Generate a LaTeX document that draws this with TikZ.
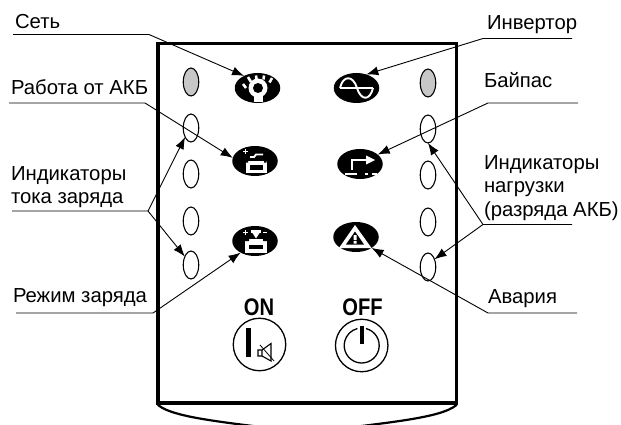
\documentclass[tikz,border=0pt]{standalone}
\usepackage{fontspec}
\setmainfont{Liberation Sans}
\newfontfamily\condfont[FakeStretch=0.84]{Liberation Sans}
\usetikzlibrary{shapes.geometric,arrows.meta}
\tikzset{
  x=1pt,y=-1pt,
  lbl/.style={inner sep=0pt,outer sep=0pt,anchor=base west,font=\fontsize{20.3}{23.5}\selectfont},
  lbltwo/.style={inner sep=0pt,outer sep=0pt,anchor=north west,align=left,font=\fontsize{20.3}{23.5}\selectfont},
  led/.style={ellipse,draw,line width=1.1pt,minimum width=15.5pt,minimum height=28pt,inner sep=0pt,outer sep=0pt},
  ledon/.style={led,fill=black!22},
  icon/.style={ellipse,fill=black,minimum width=45.5pt,minimum height=30pt,inner sep=0pt,outer sep=0pt},
  arrowed/.style={line width=0.9pt,black,-{Latex[length=12pt,width=9pt]}},
  wh/.style={white,line width=1.6pt},
  btn/.style={circle,draw,line width=1.3pt,minimum size=52.5pt,inner sep=0pt,outer sep=0pt},
  btnlbl/.style={inner sep=0pt,outer sep=0pt,anchor=base,font=\condfont\bfseries\fontsize{24}{24}\selectfont},
}
\begin{document}
\begin{tikzpicture}
\useasboundingbox (0,0) rectangle (621,425);
% body
\coordinate (bl) at (158,405);
\coordinate (br) at (456.5,405);
\draw[line width=2.2pt,line cap=round] (bl) .. controls (175,419) and (235,423) .. (307,433) .. controls (380,423) and (440,419) .. (br);
\draw[line width=3.8pt,line join=miter] (158,403) -- (158,43.5) -- (456.5,43.5) -- (456.5,403) -- cycle;
% LEDs
\node[ledon] (lA) at (191,82) {};
\node[led] (lB) at (191,128) {};
\node[led] (lC) at (191,174) {};
\node[led] (lD) at (191,221) {};
\node[led] (lE) at (191,265) {};
\node[ledon] (rA) at (428,83) {};
\node[led] (rB) at (428,129) {};
\node[led] (rC) at (428,175) {};
\node[led] (rD) at (428,222) {};
\node[led] (rE) at (428,267) {};
% icons
\node[icon] (sun) at (257.5,88) {};
\node[icon] (inv) at (356.5,88) {};
\node[icon] (batA) at (255,161) {};
\node[icon] (byp) at (360,164) {};
\node[icon] (batB) at (255,241) {};
\node[icon] (alm) at (356,237) {};
% sun glyph
\fill[white] (258,88) circle[radius=9.5pt];
\fill[black] (258,88) circle[radius=5pt];
\fill[white] (253.5,94) rectangle (262.5,102);
\draw[wh,line width=2.6pt] (243,84) -- (246,88) (248,77) -- (251,82) (256,75.5) -- (256.5,79.5) (264,75.5) -- (263.5,79.5) (272,78) -- (269.5,82.5);
% inverter glyph
\draw[wh,line width=1.9pt] (340,88) -- (373,88);
\draw[wh,line width=1.9pt] (340,88) .. controls (343,75) and (353,75) .. (357,88) .. controls (361,101) and (370,101) .. (373,88);
% battery A glyph
\fill[white] (245.5,161) rectangle (266.5,173);
\fill[black] (249.5,165) rectangle (262.5,170);
\fill[black] (245.5,161) rectangle (248,162.5) (264,161) rectangle (266.5,162.5);
\draw[wh,line width=1.8pt] (250,157) -- (254,157) -- (256,154.5) -- (263,154.5);
\draw[wh,line width=1pt] (243,152) -- (248,152) (245.5,149.5) -- (245.5,154.5);
% bypass glyph
\draw[wh,line width=2.4pt] (352,170) -- (352,160) -- (369,160);
\fill[white] (366,155.5) -- (375,160) -- (366,164.5) -- cycle;
\draw[wh,line width=1.7pt] (345,174) -- (357,174) (365,174) -- (368,174) (372,174) -- (377,174);
% battery B glyph
\fill[white] (245,239) rectangle (267,252.5);
\fill[black] (249,244.5) rectangle (263,249);
\fill[black] (245,239) rectangle (249,241) (263,239) rectangle (267,241);
\fill[white] (251,229.5) rectangle (261,233);
\fill[white] (252.5,233) -- (259.5,233) -- (256,238.5) -- cycle;
\draw[wh,line width=1pt] (243,232.5) -- (248,232.5) (245.5,230) -- (245.5,235) (263,232.5) -- (267,232.5);
% alarm glyph
\fill[white] (355,225) -- (371.5,248) -- (339,248) -- cycle;
\fill[black] (355,231.5) -- (364,244.5) -- (346,244.5) -- cycle;
\fill[white] (353.5,235) rectangle (356.5,240) (353.5,241) rectangle (356.5,243.5);
% buttons
\node[btnlbl] (onT) at (259,315.5) {ON};
\node[btnlbl] (offT) at (362.5,315.5) {OFF};
\node[btn] (onB) at (259.5,344.5) {};
\node[btn] (offB) at (361.7,345.5) {};
\fill (245.5,328) rectangle (250.5,357);
\draw[line width=1.1pt] (258,350) -- (262,350) -- (271,343.5) -- (271,361) -- (262,356) -- (258,356) -- cycle (262,350) -- (262,356);
\draw[line width=0.8pt] (260,345) -- (274,361);
\draw[line width=1.3pt] (361.7,345.5) ++(76:17.5pt) arc[start angle=76,end angle=-256,radius=17.5pt];
\fill (359.7,326) rectangle (363.7,344);
% labels
\node[lbl] (tSet) at (15,29) {Сеть};
\node[lbl] (tAkb) at (11,95) {Работа от АКБ};
\node[lbltwo] (tCh) at (11,166.5) {Индикаторы\\тока заряда};
\node[lbl] (tMode) at (13,302) {Режим заряда};
\node[lbl] (tInv) at (487,30) {Инвертор};
\node[lbl] (tByp) at (484,88) {Байпас};
\node[lbltwo] (tLoad) at (484,155.5) {Индикаторы\\нагрузки\\(разряда АКБ)};
\node[lbl] (tAlm) at (488,303) {Авария};
% leaders
\coordinate (a0) at (13,34.5);   \coordinate (a1) at (149,34.5);
\coordinate (b0) at (9,103);     \coordinate (b1) at (145,103);
\coordinate (c0) at (12,211);    \coordinate (c1) at (148,211);
\coordinate (d0) at (16,313);    \coordinate (d1) at (153,313);
\coordinate (e0) at (572,38.5);  \coordinate (e1) at (483,38.5);
\coordinate (f0) at (578,103);   \coordinate (f1) at (488,103);
\coordinate (g0) at (572,224.5); \coordinate (g1) at (483,224.5);
\coordinate (h0) at (577,313);   \coordinate (h1) at (488,313);
\draw[arrowed] (a0) -- (a1) -- (sun.138);
\draw[arrowed] (b0) -- (b1) -- (batA.172);
\draw[arrowed] (c0) -- (c1) -- (lB.237);
\draw[arrowed] (c1) -- (lE.126);
\draw[arrowed] (d0) -- (d1) -- (batB.219);
\draw[arrowed] (e0) -- (e1) -- (inv.54);
\draw[arrowed] (f0) -- (f1) -- (byp.28);
\draw[arrowed] (g0) -- (g1) -- (rB.south);
\draw[arrowed] (g1) -- (rE.50);
\draw[arrowed] (h0) -- (h1) -- (alm.325);
\end{tikzpicture}
\end{document}
